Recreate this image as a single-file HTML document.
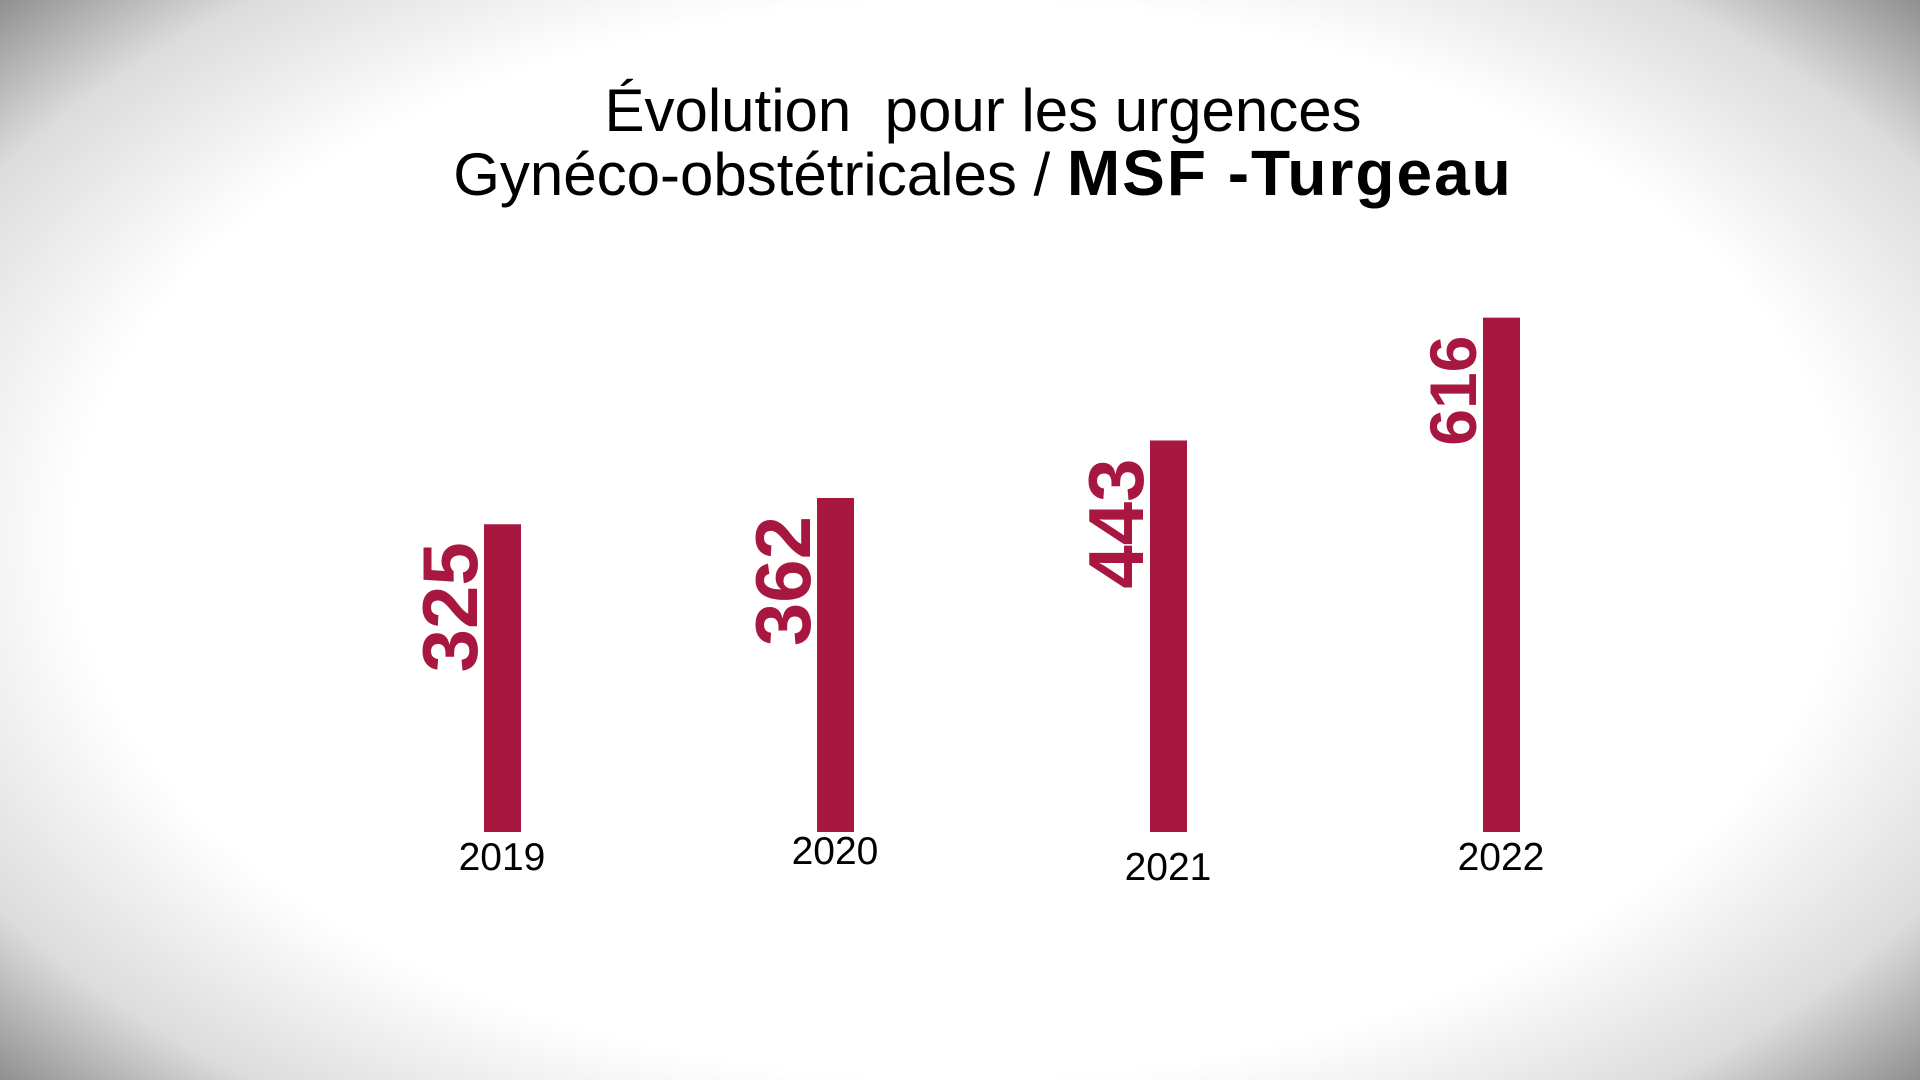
<!DOCTYPE html>
<html>
<head>
<meta charset="utf-8">
<style>
html,body{margin:0;padding:0}
body{width:1920px;height:1080px;overflow:hidden;position:relative;
background:radial-gradient(ellipse 72% 78% at 50% 50%, #ffffff 64%, #dcdcdc 82%, #6e6e6e 100%);
font-family:"Liberation Sans",sans-serif;}
#title{position:absolute;left:0;width:1966px;top:80px;text-align:center;font-size:60px;line-height:62px;color:#000}
#title b{font-size:64px;letter-spacing:2px}
svg{position:absolute;left:0;top:0}
</style>
</head>
<body>
<div id="title">Évolution&nbsp; pour les urgences<br>Gynéco-obstétricales / <b>MSF -Turgeau</b></div>
<svg id="chart" width="1920" height="1080"></svg>
<script>
const categories=["2019","2020","2021","2022"];
const values=[325,362,443,616];
const valueLabels=["325","362","443","616"];
const svg=document.getElementById('chart');
const NS="http://www.w3.org/2000/svg";
const baseline=832, pxPerUnit=0.71, offset=77;
function yScale(v){return baseline-(offset+v*pxPerUnit);}
function xCenter(i){return 502+i*333;}
const labelYOffset=[857,851,867,857];
const labelSize=[78,78,78,66];
categories.forEach((c,i)=>{
  const cx=xCenter(i), top=yScale(values[i]);
  const r=document.createElementNS(NS,'rect');
  
  
  r.setAttribute('x',cx-18);r.setAttribute('y',top);r.setAttribute('width',37);r.setAttribute('height',baseline-top);
  r.setAttribute('fill','#A8173F');svg.appendChild(r);
  const t=document.createElementNS(NS,'text');
  
  
  const lx=cx-25, ly=top+18;
  t.setAttribute('x',lx);t.setAttribute('y',ly);
  t.setAttribute('transform','rotate(-90 '+lx+' '+ly+')');
  t.setAttribute('text-anchor','end');
  t.setAttribute('font-family','Liberation Sans, sans-serif');
  t.setAttribute('font-weight','bold');t.setAttribute('font-size',labelSize[i]);
  t.setAttribute('fill','#A8173F');
  t.textContent=valueLabels[i];svg.appendChild(t);
  const y=document.createElementNS(NS,'text');
  
  
  y.setAttribute('x',cx);y.setAttribute('y',labelYOffset[i]+13);
  y.setAttribute('text-anchor','middle');
  y.setAttribute('font-family','Liberation Sans, sans-serif');
  y.setAttribute('font-size',39);y.setAttribute('fill','#000');
  y.textContent=c;svg.appendChild(y);
});
</script>
</body>
</html>
